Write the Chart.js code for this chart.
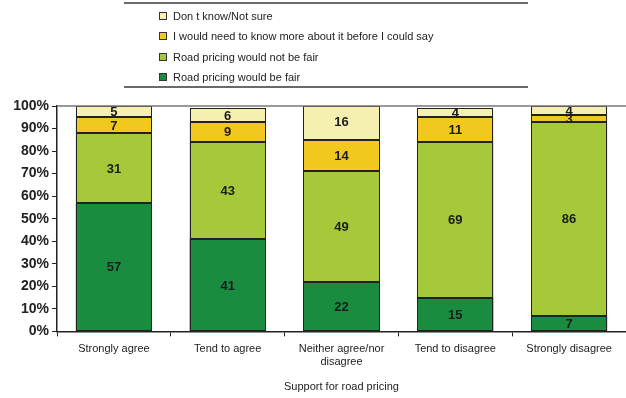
<!DOCTYPE html>
<html>
<head>
<meta charset="utf-8">
<script src="https://cdn.jsdelivr.net/npm/chart.js@4"></script>
<style>
  html, body { margin: 0; padding: 0; background: #fff; }
  #wrap { position: relative; width: 626px; height: 398px; }
  #legend {
    position: absolute; left: 124px; top: 2px; width: 404px; height: 82px;
    border-top: 2px solid #6a6a6a; border-bottom: 2px solid #6a6a6a;
    font-family: Arial, "Liberation Sans", sans-serif; font-size: 11px; color: #222;
  }
  .item { position: absolute; left: 35px; height: 14px; line-height: 14px; white-space: nowrap; }
  .box { display: inline-block; width: 6px; height: 6px; border: 1px solid #333; margin-right: 6px; vertical-align: 0; }
</style>
</head>
<body>
<div id="wrap">
  <canvas id="chart" width="626" height="398"></canvas>
  <div id="legend"></div>
</div>
<script>
// =====================================================
// DATA
// =====================================================

const categories = ['Strongly agree', 'Tend to agree', ['Neither agree/nor', 'disagree'], 'Tend to disagree', 'Strongly disagree'];

const fair      = [57, 41, 22, 15, 7];
const notFair   = [31, 43, 49, 69, 86];
const needKnow  = [7, 9, 14, 11, 3];
const dontKnow  = [5, 6, 16, 4, 4];

const seriesNames = [
  'Road pricing would be fair',
  'Road pricing would not be fair',
  'I would need to know more about it before I could say',
  'Don t  know/Not sure'
];
const seriesColors = ['#1a8c40', '#a5c93a', '#f3c81e', '#f6f0b0'];

const yTicks = [0, 10, 20, 30, 40, 50, 60, 70, 80, 90, 100];

const font = 'Arial, "Liberation Sans", sans-serif';

// =====================================================
// PLUGINS
// =====================================================

// crisp outline round every segment, then its number in the middle
const segmentLabels = {
  id: 'segmentLabels',
  afterDatasetsDraw(chart) {
    const ctx = chart.ctx;
    const area = chart.chartArea;
    ctx.save();
    ctx.beginPath();
    ctx.rect(area.left, area.top - 1, area.right - area.left, area.bottom - area.top + 2);
    ctx.clip();

    ctx.strokeStyle = '#222';
    ctx.lineWidth = 1;
    chart.data.datasets.forEach((ds, i) => {
      chart.getDatasetMeta(i).data.forEach(bar => {
        const p = bar.getProps(['x', 'y', 'base', 'width'], true);
        const l = Math.round(p.x - p.width / 2) + 0.5;
        const r = Math.round(p.x + p.width / 2) - 0.5;
        const t = Math.round(Math.max(p.y, area.top)) + 0.5;
        const b = Math.round(p.base) - 0.5;
        ctx.strokeRect(l, t, r - l, b - t);
      });
    });

    ctx.font = 'bold 13px ' + font;
    ctx.fillStyle = '#1c1c1c';
    ctx.textAlign = 'center';
    ctx.textBaseline = 'middle';
    chart.data.datasets.forEach((ds, i) => {
      chart.getDatasetMeta(i).data.forEach((bar, j) => {
        const p = bar.getProps(['x', 'y', 'base'], true);
        ctx.fillText(ds.data[j], p.x, (p.y + p.base) / 2 + 1);
      });
    });
    ctx.restore();
  }
};

// grey line along the 100% level, out to the right edge
const topLine = {
  id: 'topLine',
  afterDraw(chart) {
    const { ctx, chartArea } = chart;
    ctx.save();
    ctx.strokeStyle = '#777';
    ctx.lineWidth = 1.5;
    ctx.beginPath();
    ctx.moveTo(chartArea.left, chartArea.top);
    ctx.lineTo(chart.width, chartArea.top);
    ctx.stroke();
    ctx.restore();
  }
};

// =====================================================
// CHART
// =====================================================

const datasets = [fair, notFair, needKnow, dontKnow].map((d, i) => ({
  label: seriesNames[i],
  data: d,
  backgroundColor: seriesColors[i],
  borderWidth: 0,
  categoryPercentage: 1,
  barPercentage: 0.67
}));

new Chart(document.getElementById('chart'), {
  type: 'bar',
  data: { labels: categories, datasets: datasets },
  options: {
    responsive: false,
    animation: false,
    layout: { padding: { top: 106, right: 0, left: 2, bottom: 0 } },
    plugins: { legend: { display: false }, tooltip: { enabled: false } },
    scales: {
      x: {
        stacked: true,
        grid: { offset: true, drawOnChartArea: false, tickLength: 5, color: '#222' },
        border: { color: '#222', width: 1.5 },
        ticks: { color: '#222', font: { family: font, size: 11 }, padding: 6, maxRotation: 0, autoSkip: false },
        title: { display: true, text: 'Support for road pricing', color: '#222', font: { family: font, size: 11 }, padding: { top: 6 } }
      },
      y: {
        stacked: true,
        min: 0,
        max: 100,
        afterBuildTicks: s => { s.ticks = yTicks.map(v => ({ value: v })); },
        afterFit: s => { s.width = 55; },
        grid: { drawOnChartArea: false, tickLength: 5, color: '#222' },
        border: { color: '#222', width: 1.5 },
        ticks: { color: '#222', font: { family: font, size: 14, weight: 'bold' }, padding: 3, callback: v => v + '%' }
      }
    }
  },
  plugins: [segmentLabels, topLine]
});

// legend, listed top-down in reverse stacking order
const legend = document.getElementById('legend');
const rowTops = [5, 25, 46, 66];
datasets.slice().reverse().forEach((ds, i) => {
  const row = document.createElement('div');
  row.className = 'item';
  row.style.top = rowTops[i] + 'px';
  row.innerHTML = '<span class="box" style="background:' + ds.backgroundColor + '"></span>';
  row.appendChild(document.createTextNode(ds.label));
  legend.appendChild(row);
});
</script>
</body>
</html>
